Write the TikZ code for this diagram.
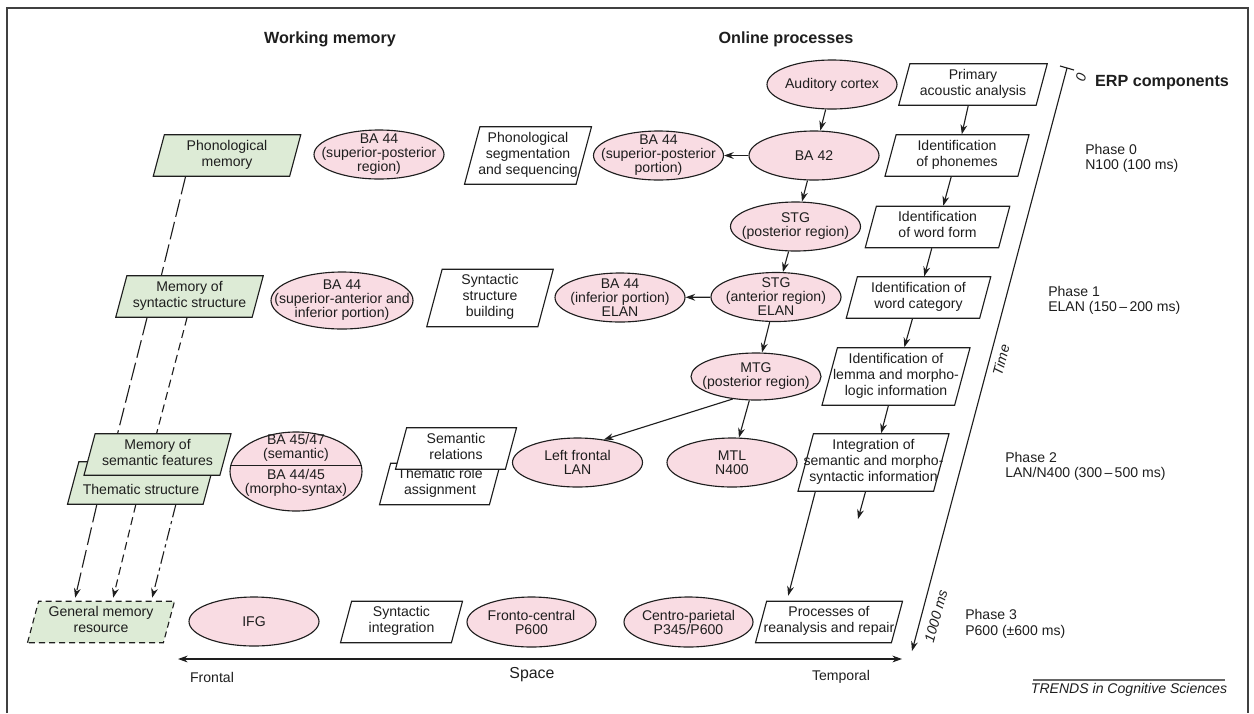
\documentclass[tikz,border=0pt]{standalone}
\usepackage{fontspec}
\setmainfont{Liberation Sans}
\usetikzlibrary{shapes.geometric,arrows.meta,calc}
\definecolor{regionpink}{RGB}{249,220,227}
\definecolor{memgreen}{RGB}{221,235,214}
\definecolor{inkgray}{RGB}{30,30,30}
\begin{document}
\begin{tikzpicture}[x=0.025cm,y=-0.025cm,
  font=\fontsize{10}{11.1}\selectfont,
  every node/.style={text=inkgray,align=center},
  >={Stealth[length=0.24cm,width=0.17cm]},
  boxsize/.style 2 args={minimum width=#1*0.025cm,minimum height=#2*0.025cm},
  pwidth/.style={minimum width=#1*0.025cm},
  region/.style={ellipse,draw=inkgray,line width=0.8pt,fill=regionpink,font=\fontsize{10}{10}\selectfont,inner xsep=-0.6cm,inner ysep=-0.4cm,boxsize={130}{49}},
  process/.style={trapezium,trapezium left angle=75,trapezium right angle=105,trapezium stretches body,draw=inkgray,line width=0.8pt,fill=white,font=\fontsize{10}{11.4}\selectfont,execute at begin node=\strut,execute at end node=\strut,inner xsep=-0.3cm,inner ysep=0.13cm},
  memory/.style={process,fill=memgreen},
  link/.style={->,draw=inkgray,line width=0.8pt},
  longdash/.style={draw=inkgray,line width=0.8pt,dash pattern=on 0.45cm off 0.13cm},
  meddash/.style={draw=inkgray,line width=0.8pt,dash pattern=on 0.2cm off 0.12cm},
  dashdotted/.style={draw=inkgray,line width=0.8pt,dash pattern=on 0.32cm off 0.1cm on 0.08cm off 0.1cm},
  head/.style={font=\fontsize{11.5}{13}\selectfont\bfseries},
  phase/.style={anchor=west,align=left,inner sep=0pt},
  axislbl/.style={font=\fontsize{10}{11.1}\selectfont\itshape,rotate=75}]
\useasboundingbox (0,0) rectangle (1254,713);
\draw[black!75,line width=1.2pt] (7,713) -- (7,8) -- (1248,8) -- (1248,713);

\node[head] (wm) at (330,39) {Working memory};
\node[head] (op) at (786,39) {Online processes};
\node[head] (erp) at (1162,83) {ERP components};

\node[region] (audctx) at (832,84.5) {Auditory cortex};
\node[region] (ba42) at (814,155.5) {BA 42};
\node[region] (ba44spp) at (658.5,155.5) {BA 44\\(superior-posterior\\portion)};
\node[region] (ba44spr) at (379,154.5) {BA 44\\(superior-posterior\\region)};
\node[region] (stgpost) at (795.5,226.5) {STG\\(posterior region)};
\node[region] (stgant) at (776,297) {STG\\(anterior region)\\ELAN};
\node[region] (ba44inf) at (620,297.5) {BA 44\\(inferior portion)\\ELAN};
\node[region,boxsize={142}{57}] (ba44sai) at (342,300.5) {BA 44\\(superior-anterior and\\inferior portion)};
\node[region,boxsize={130}{47}] (mtg) at (756,376.5) {MTG\\(posterior region)};
\node[region] (leftfr) at (577.5,462.5) {Left frontal\\LAN};
\node[region] (mtl) at (732,462.5) {MTL\\N400};
\node[region,boxsize={132}{79}] (ba4547) at (296,471.5) {};
\draw[inkgray,line width=0.8pt] (ba4547.175) -- (ba4547.5);
\node[font=\fontsize{10}{10}\selectfont] (ba4547up) at (296,448) {BA 45/47\\(semantic)};
\node[font=\fontsize{10}{10}\selectfont] (ba4445lo) at (296,482.5) {BA 44/45\\(morpho-syntax)};
\node[region] (ifg) at (254,621.5) {IFG};
\node[region,boxsize={129}{50}] (fronto) at (531.5,622) {Fronto-central\\P600};
\node[region,boxsize={129}{50}] (centro) at (688.5,622) {Centro-parietal\\P345/P600};

\node[process,pwidth=148.5] (primary) at (973,84.5) {Primary\\acoustic analysis};
\node[process,pwidth=144] (phonemes) at (957,155.5) {Identification\\of phonemes};
\node[process,pwidth=144.5] (wordform) at (937.5,227) {Identification\\of word form};
\node[process,pwidth=144.5] (wordcat) at (918.5,297.5) {Identification of\\word category};
\node[process,pwidth=148] (lemma) at (896,376.5) {Identification of\\lemma and morpho-\\logic information};
\node[process,pwidth=151] (integ) at (873.5,462.5) {Integration of\\semantic and morpho-\\syntactic information};
\node[process,pwidth=147] (reanal) at (829,622) {Processes of\\reanalysis and repair};
\node[process,pwidth=127] (phonseg) at (528,155.5) {Phonological\\segmentation\\and sequencing};
\node[process,pwidth=126.5] (synbuild) at (490,298) {Syntactic\\structure\\building};
\node[process,pwidth=121] (themrole) at (440,484) {Thematic role\\assignment};
\node[process,pwidth=121] (semrel) at (456,448.5) {Semantic\\relations};
\node[process,pwidth=122] (synint) at (401.5,622) {Syntactic\\integration};

\node[memory,pwidth=147.5] (phonmem) at (227,155.5) {Phonological\\memory};
\node[memory,pwidth=147.5] (synmem) at (189.5,296.5) {Memory of\\syntactic structure};
\node[memory,pwidth=147] (themstr) at (141,483) {\strut\\Thematic structure};
\node[memory,pwidth=147] (semmem) at (157.5,454.5) {Memory of\\semantic features};
\node[memory,dash pattern=on 0.15cm off 0.1cm,pwidth=147] (gmr) at (101,622) {General memory\\resource};

\draw[link] (audctx) -- (ba42);
\draw[link] (ba42) -- (ba44spp);
\draw[link] (ba42) -- (stgpost);
\draw[link] (stgpost) -- (stgant);
\draw[link] (stgant) -- (ba44inf);
\draw[link] (stgant) -- (mtg);
\draw[link] (mtg.224) -- (leftfr.41);
\draw[link] (mtg) -- (mtl);

\draw[link] (primary) -- (phonemes);
\draw[link] (phonemes) -- (wordform);
\draw[link] (wordform) -- (wordcat);
\draw[link] (wordcat) -- (lemma);
\draw[link] (lemma) -- (integ);
\coordinate (integend) at (858,519);
\draw[link] (integ) -- (integend);
\draw[link] ($(integ.bottom left corner)+(18,0)$) -- ($(reanal.top left corner)+(22,-5)$);

\draw[longdash] ($(phonmem.bottom left corner)+(33,0)$) -- ($(synmem.top left corner)+(35,0)$);
\draw[longdash] ($(synmem.bottom left corner)+(32,0)$) -- ($(semmem.top left corner)+(23,0)$);
\draw[meddash] ($(synmem.bottom left corner)+(72,0)$) -- ($(semmem.top left corner)+(62,0)$);
\draw[longdash,->] ($(themstr.bottom left corner)+(30,0)$) -- ($(gmr.top left corner)+(37,-3)$);
\draw[meddash,->] ($(themstr.bottom left corner)+(69,0)$) -- ($(gmr.top left corner)+(75,-3)$);
\draw[dashdotted,->] ($(themstr.bottom left corner)+(109,0)$) -- ($(gmr.top left corner)+(114,-3)$);

\coordinate (t0) at (1067,68);
\coordinate (t1) at (912,651);
\draw[link] (t0) -- (t1);
\draw[inkgray,line width=0.8pt] ($(t0)+(-7,-2)$) -- ($(t0)+(7,2)$);
\node[axislbl] (tzero) at (1081,77) {0};
\node[axislbl] (tlbl) at (1001,360) {Time};
\node[axislbl] (tend) at (936,616) {1000 ms};

\coordinate (sl) at (178,659);
\coordinate (sr) at (902,659);
\draw[link,<->] (sl) -- (sr);
\node (frontal) at (212,677) {Frontal};
\node[font=\fontsize{11.3}{13}\selectfont] (space) at (532,675) {Space};
\node (temporal) at (841,677) {Temporal};

\node[phase] (ph0) at (1085,158.5) {Phase 0\\N100 (100 ms)};
\node[phase] (ph1) at (1048,300.5) {Phase 1\\ELAN (150\,–\,200 ms)};
\node[phase] (ph2) at (1005,466.5) {Phase 2\\LAN/N400 (300\,–\,500 ms)};
\node[phase] (ph3) at (965,624) {Phase 3\\P600 (±600 ms)};

\draw[black!60,line width=1.2pt] (1033,680) -- (1225,680);
\node[font=\fontsize{10}{11.1}\selectfont\itshape] (trends) at (1129,690) {TRENDS in Cognitive Sciences};
\end{tikzpicture}
\end{document}
